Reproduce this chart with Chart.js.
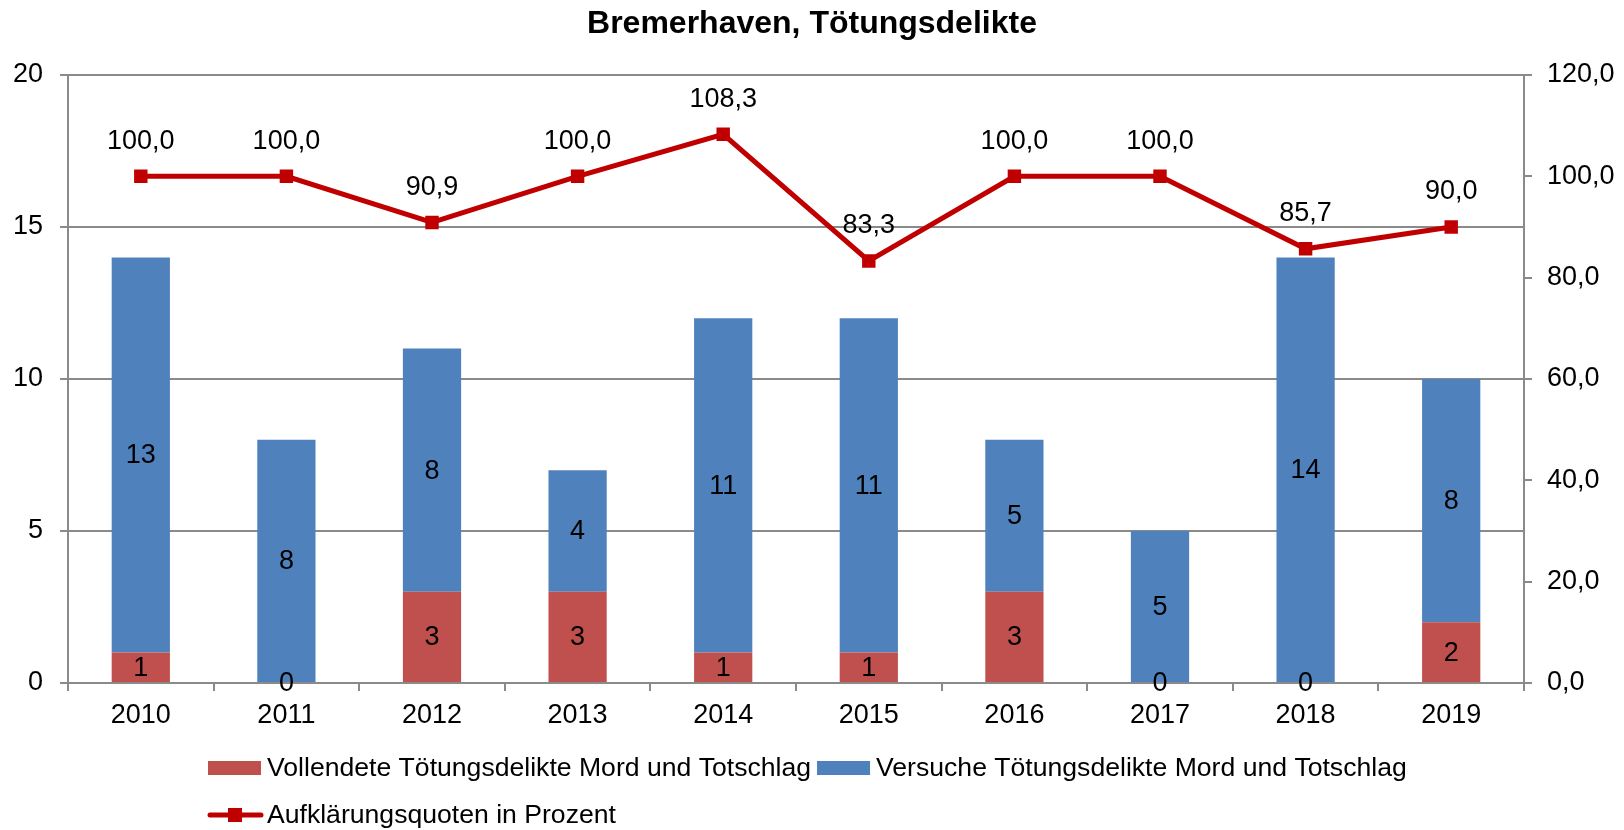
<!DOCTYPE html>
<html>
<head>
<meta charset="utf-8">
<script src="https://cdn.jsdelivr.net/npm/chart.js@4/dist/chart.umd.min.js"></script>
<style>
  html, body { margin: 0; padding: 0; background: #ffffff; }
  #wrap { width: 1624px; height: 830px; }
</style>
</head>
<body>
<div id="wrap"><canvas id="c" width="1624" height="830"></canvas></div>
<script>
const title = 'Bremerhaven, Tötungsdelikte';
const years = ['2010','2011','2012','2013','2014','2015','2016','2017','2018','2019'];
const vollendete = [1, 0, 3, 3, 1, 1, 3, 0, 0, 2];
const versuche = [13, 8, 8, 4, 11, 11, 5, 5, 14, 8];
const quote = [100.0, 100.0, 90.9, 100.0, 108.3, 83.3, 100.0, 100.0, 85.7, 90.0];
const leftTicks = [0, 5, 10, 15, 20];
const rightTicks = [0, 20, 40, 60, 80, 100, 120];
const seriesNames = [
  'Vollendete Tötungsdelikte Mord und Totschlag',
  'Versuche Tötungsdelikte Mord und Totschlag',
  'Aufklärungsquoten in Prozent'
];

const FONT = '"Liberation Sans", Arial, sans-serif';
const FS = 27;
const LFS = 26.6;
const GRID = '#8a8a8a';
const RED = '#C0504D';
const BLUE = '#4F81BD';
const LINE = '#C00000';

const fmt1 = v => Number(v).toFixed(1).replace('.', ',');

const labelsPlugin = {
  id: 'valueLabels',
  afterDatasetsDraw(chart) {
    const ctx = chart.ctx;
    ctx.save();
    ctx.font = FS + 'px ' + FONT;
    ctx.fillStyle = '#000';
    ctx.textAlign = 'center';
    ctx.textBaseline = 'middle';
    chart.data.datasets.forEach((ds, di) => {
      const meta = chart.getDatasetMeta(di);
      meta.data.forEach((el, i) => {
        const v = ds.data[i];
        if (ds.type === 'line') {
          ctx.fillText(fmt1(v), el.x, el.y - 35);
        } else {
          ctx.fillText(String(v), el.x, (el.y + el.base) / 2 + 1);
        }
      });
    });
    ctx.restore();
  }
};

const titleLegendPlugin = {
  id: 'titleLegend',
  afterDraw(chart) {
    const ctx = chart.ctx;
    ctx.save();
    ctx.fillStyle = '#000';
    ctx.font = 'bold 32px ' + FONT;
    ctx.textAlign = 'center';
    ctx.textBaseline = 'alphabetic';
    ctx.fillText(title, chart.width / 2, 33);

    ctx.font = LFS + 'px ' + FONT;
    ctx.textAlign = 'left';
    ctx.textBaseline = 'middle';
    const ds = chart.data.datasets;
    // row 1: the two bar series
    let x = 208;
    const y1 = 768;
    [0, 1].forEach(di => {
      ctx.fillStyle = ds[di].backgroundColor;
      ctx.fillRect(x, y1 - 7, 53, 14);
      ctx.fillStyle = '#000';
      ctx.fillText(ds[di].label, x + 59, y1 + 1);
      x = x + 59 + ctx.measureText(ds[di].label).width + 6;
    });
    // row 2: line series
    const y2 = 815;
    const lx = 208;
    ctx.strokeStyle = ds[2].borderColor;
    ctx.lineWidth = 5;
    ctx.lineCap = 'round';
    ctx.beginPath();
    ctx.moveTo(lx + 2, y2);
    ctx.lineTo(lx + 53, y2);
    ctx.stroke();
    ctx.fillStyle = ds[2].borderColor;
    ctx.fillRect(lx + 27 - 7, y2 - 7, 14, 14);
    ctx.fillStyle = '#000';
    ctx.fillText(ds[2].label, lx + 59, y2 + 1);
    ctx.restore();
  }
};

new Chart(document.getElementById('c'), {
  data: {
    labels: years,
    datasets: [
      {
        type: 'bar',
        label: seriesNames[0],
        data: vollendete,
        backgroundColor: RED,
        stack: 's',
        yAxisID: 'y',
        order: 1,
        barPercentage: 0.4,
        categoryPercentage: 1.0
      },
      {
        type: 'bar',
        label: seriesNames[1],
        data: versuche,
        backgroundColor: BLUE,
        stack: 's',
        yAxisID: 'y',
        order: 1,
        barPercentage: 0.4,
        categoryPercentage: 1.0
      },
      {
        type: 'line',
        label: seriesNames[2],
        data: quote,
        borderColor: LINE,
        backgroundColor: LINE,
        borderWidth: 5,
        pointStyle: 'rect',
        pointRadius: 9.5,
        pointBorderWidth: 0,
        pointBackgroundColor: LINE,
        tension: 0,
        yAxisID: 'y1',
        order: 0
      }
    ]
  },
  options: {
    responsive: false,
    animation: false,
    layout: { padding: { top: 75, left: 0, right: 0, bottom: 0 } },
    plugins: {
      legend: { display: false },
      title: { display: false },
      tooltip: { enabled: false }
    },
    scales: {
      x: {
        stacked: true,
        offset: true,
        grid: { display: true, drawOnChartArea: false, drawTicks: true, tickLength: 8, color: GRID, lineWidth: 2 },
        border: { display: true, color: GRID, width: 2 },
        ticks: { color: '#000', font: { family: FONT, size: FS }, padding: 8, maxRotation: 0 },
        afterFit: s => { s.height = 147; }
      },
      y: {
        position: 'left',
        stacked: true,
        min: 0,
        max: 20,
        afterBuildTicks: s => { s.ticks = leftTicks.map(v => ({ value: v })); },
        grid: { color: GRID, lineWidth: 2, tickLength: 8, drawTicks: true },
        border: { display: true, color: GRID, width: 2 },
        ticks: { color: '#000', font: { family: FONT, size: FS }, padding: 17 },
        afterFit: s => { s.width = 68; }
      },
      y1: {
        position: 'right',
        min: 0,
        max: 120,
        afterBuildTicks: s => { s.ticks = rightTicks.map(v => ({ value: v })); },
        grid: { drawOnChartArea: false, color: GRID, lineWidth: 2, tickLength: 8, drawTicks: true },
        border: { display: true, color: GRID, width: 2 },
        ticks: { color: '#000', font: { family: FONT, size: FS }, padding: 15, callback: v => fmt1(v) },
        afterFit: s => { s.width = 100; }
      }
    }
  },
  plugins: [labelsPlugin, titleLegendPlugin]
});
</script>
</body>
</html>
